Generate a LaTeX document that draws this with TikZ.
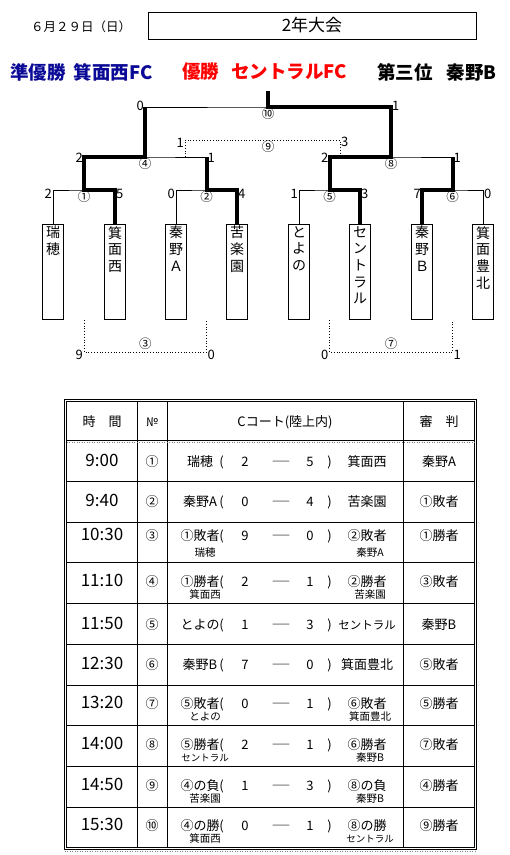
\documentclass[tikz,border=0pt]{standalone}
\usepackage{fontspec}
\setmainfont{Noto Sans CJK JP}
\usetikzlibrary{calc, positioning}
\definecolor{runnerblue}{RGB}{10,10,150}

\begin{document}
\begin{tikzpicture}[x=1pt,y=-1pt,
  bracket/.style={line width=0.9pt},
  winline/.style={line width=4pt, line join=miter},
  dotline/.style={line width=0.8pt, dotted},
  teambox/.style={draw, line width=0.9pt, anchor=north, minimum width=20.5pt, minimum height=95pt, inner sep=0pt},
  teamname/.style={anchor=north, align=center, inner sep=2pt, font=\fontsize{14}{16.7}\selectfont},
  score/.style={inner sep=1pt, font=\fontsize{13}{13}\selectfont},
  gameno/.style={inner sep=1pt, font=\fontsize{12.5}{13}\selectfont},
  result/.style={anchor=west, inner sep=0pt, font=\bfseries\fontsize{18.5}{18.5}\selectfont},
  cell/.style={anchor=base, inner sep=0pt, font=\fontsize{13}{13}\selectfont},
  timecell/.style={cell, font=\fontsize{17}{17}\selectfont},
  subcell/.style={cell, font=\fontsize{10.5}{10.5}\selectfont},
]
\useasboundingbox (0,0) rectangle (510,855);

% title lines
\node[font=\fontsize{12.5}{13}\selectfont] (date) at (81,27) {６月２９日（日）};
\node[draw, line width=0.8pt, minimum width=328pt, minimum height=27pt, inner sep=0pt,
      font=\fontsize{17}{17}\selectfont] (event) at (312,25.5) {2年大会};
\node[result, text=runnerblue] (second) at (10,72) {準優勝\hspace{8pt}箕面西FC};
\node[result, text=red] (first) at (182,72) {優勝\hspace{12pt}セントラルFC};
\node[result] (third) at (377,72) {第三位\hspace{14pt}秦野B};

% teams
\node[teambox] (mizuho) at (53,224) {};
\node[teambox] (minoo) at (115,224) {};
\node[teambox] (hatanoA) at (176,224) {};
\node[teambox] (kurakuen) at (237,224) {};
\node[teambox] (toyono) at (299,224) {};
\node[teambox] (central) at (360,224) {};
\node[teambox] (hatanoB) at (422,224) {};
\node[teambox] (toyokita) at (483,224) {};
\node[teamname] (mizuhoN) at (mizuho.north) {瑞\\穂};
\node[teamname] (minooN) at (minoo.north) {箕\\面\\西};
\node[teamname] (hatanoAN) at (hatanoA.north) {秦\\野\\Ａ};
\node[teamname] (kurakuenN) at (kurakuen.north) {苦\\楽\\園};
\node[teamname] (toyonoN) at (toyono.north) {と\\よ\\の};
\node[teamname] (centralN) at (central.north) {セ\\ン\\ト\\ラ\\ル};
\node[teamname] (hatanoBN) at (hatanoB.north) {秦\\野\\Ｂ};
\node[teamname] (toyokitaN) at (toyokita.north) {箕\\面\\豊\\北};

% bracket
\coordinate (m1) at (84,190);
\coordinate (m2) at (206.5,190);
\coordinate (m5) at (329.5,190);
\coordinate (m6) at (452.5,190);
\coordinate (m4) at (145,157);
\coordinate (m8) at (391,157);
\coordinate (m10) at (268,107);
\coordinate (champ) at (268,91);
\coordinate (c9l) at (185,140);
\coordinate (c9r) at (340,140);
\coordinate (low) at (0,352);
\coordinate (c3) at ($(m1 |- low)!0.5!(m2 |- low)$);
\coordinate (c7) at ($(m5 |- low)!0.5!(m6 |- low)$);

\draw[bracket] (mizuho.north) |- (m1) -| (minoo.north);
\draw[bracket] (hatanoA.north) |- (m2) -| (kurakuen.north);
\draw[bracket] (toyono.north) |- (m5) -| (central.north);
\draw[bracket] (hatanoB.north) |- (m6) -| (toyokita.north);
\draw[bracket] (m1) |- (m4) -| (m2);
\draw[bracket] (m5) |- (m8) -| (m6);
\draw[bracket] (m4) |- (m10) -| (m8);

\draw[winline] (minoo.north) |- (m1) |- (m4) -- (m4 |- m10);
\draw[winline] (kurakuen.north) |- (m2) -- (m2 |- m4);
\draw[winline] (central.north) |- (m5) |- (m8) |- (m10) -- (champ);
\draw[winline] (hatanoB.north) |- (m6) -- (m6 |- m8);

\draw[dotline] (c9l |- m4) -- (c9l) -- (c9r) -- (c9r |- m8);
\draw[dotline] (m1 |- mizuho.south) -- (m1 |- low) -- (m2 |- low) -- (m2 |- mizuho.south);
\draw[dotline] (m5 |- mizuho.south) -- (m5 |- low) -- (m6 |- low) -- (m6 |- mizuho.south);

\node[score, left, yshift=-4pt] (r1a) at (mizuho.north |- m1) {2};
\node[score, right, yshift=-4pt] (r1b) at (minoo.north |- m1) {5};
\node[score, left, yshift=-4pt] (r2a) at (hatanoA.north |- m2) {0};
\node[score, right, yshift=-4pt] (r2b) at (kurakuen.north |- m2) {4};
\node[score, left, yshift=-4pt] (r5a) at (toyono.north |- m5) {1};
\node[score, right, yshift=-4pt] (r5b) at (central.north |- m5) {3};
\node[score, left, yshift=-4pt] (r6a) at (hatanoB.north |- m6) {7};
\node[score, right, yshift=-4pt] (r6b) at (toyokita.north |- m6) {0};
\node[score, left, yshift=-1pt] (r4a) at (m1 |- m4) {2};
\node[score, right, yshift=-1pt] (r4b) at (m2 |- m4) {1};
\node[score, left, yshift=-1pt] (r8a) at (m5 |- m8) {2};
\node[score, right, yshift=-1pt] (r8b) at (m6 |- m8) {1};
\node[score, left, yshift=1pt] (r10a) at (m4 |- m10) {0};
\node[score, right, yshift=1pt] (r10b) at (m8 |- m10) {1};
\node[score, left, yshift=-3pt] (r9a) at (c9l) {1};
\node[score, right, yshift=-2pt] (r9b) at (c9r) {3};
\node[score, left, yshift=-3pt] (r3a) at (m1 |- low) {9};
\node[score, right, yshift=-3pt] (r3b) at (m2 |- low) {0};
\node[score, left, yshift=-3pt] (r7a) at (m5 |- low) {0};
\node[score, right, yshift=-3pt] (r7b) at (m6 |- low) {1};

\node[gameno, below] (g1) at (m1) {①};
\node[gameno, below] (g2) at (m2) {②};
\node[gameno, below] (g5) at (m5) {⑤};
\node[gameno, below] (g6) at (m6) {⑥};
\node[gameno, below] (g4) at (m4) {④};
\node[gameno, below] (g8) at (m8) {⑧};
\node[gameno, below] (g10) at (m10) {⑩};
\node[gameno, below] (g9) at (m10 |- c9l) {⑨};
\node[gameno, above, yshift=1pt] (g3) at (c3) {③};
\node[gameno, above, yshift=1pt] (g7) at (c7) {⑦};

% schedule table
\draw[line width=0.8pt] (64.5,399.5) rectangle (476.5,849);
\draw[line width=0.8pt] (66.5,401.5) rectangle (474.5,847);
\draw[line width=0.8pt] (137,401.5) -- (137,847) (167,401.5) -- (167,847) (403,401.5) -- (403,847);
\draw[line width=0.8pt] (66.5,440.5) -- (474.5,440.5) (66.5,481.25) -- (474.5,481.25)
  (66.5,522) -- (474.5,522) (66.5,562.75) -- (474.5,562.75) (66.5,603.5) -- (474.5,603.5)
  (66.5,644.25) -- (474.5,644.25) (66.5,685) -- (474.5,685) (66.5,725.75) -- (474.5,725.75)
  (66.5,766.5) -- (474.5,766.5) (66.5,807.25) -- (474.5,807.25);
\draw[gray, line width=0.5pt, dotted] (66.5,442.5) -- (474.5,442.5) (64.5,851) -- (476.5,851);

\node[cell] (hTime) at (102,426) {時　間};
\node[cell, font=\fontsize{12}{12}\selectfont] (hNo) at (152,426) {№};
\node[cell] (hCourt) at (285,426) {Cコート(陸上内)};
\node[cell] (hRef) at (439,426) {審　判};

\def\gamerow#1#2#3#4#5#6#7#8#9{%
  \node[timecell] (time#9) at (102,#1) {#2};
  \node[cell] (no#9) at (152,#1) {#3};
  \node[cell] (home#9) at (200,#1) {#4};
  \node[cell] (lp#9) at (221.5,#1) {(};
  \node[cell] (hs#9) at (245,#1) {#5};
  \node[cell] (dash#9) at (281,#1) {\scalebox{1.5}[1]{―}};
  \node[cell] (as#9) at (310,#1) {#6};
  \node[cell] (rp#9) at (329.5,#1) {)};
  \node[cell] (away#9) at (367,#1) {#7};
  \node[cell] (ref#9) at (439,#1) {#8};
}
\gamerow{466}{9:00}{①}{瑞穂}{2}{5}{箕面西}{秦野A}{1}
\gamerow{506.6}{9:40}{②}{秦野A}{0}{4}{苦楽園}{①敗者}{2}
\gamerow{540.5}{10:30}{③}{①敗者}{9}{0}{②敗者}{①勝者}{3}
\gamerow{586}{11:10}{④}{①勝者}{2}{1}{②勝者}{③敗者}{4}
\gamerow{629}{11:50}{⑤}{とよの}{1}{3}{{\fontsize{11.5}{11.5}\selectfont セントラル}}{秦野B}{5}
\gamerow{669.6}{12:30}{⑥}{秦野B}{7}{0}{箕面豊北}{⑤敗者}{6}
\gamerow{708}{13:20}{⑦}{⑤敗者}{0}{1}{⑥敗者}{⑤勝者}{7}
\gamerow{749}{14:00}{⑧}{⑤勝者}{2}{1}{⑥勝者}{⑦敗者}{8}
\gamerow{790}{14:50}{⑨}{④の負}{1}{3}{⑧の負}{④勝者}{9}
\gamerow{830}{15:30}{⑩}{④の勝}{0}{1}{⑧の勝}{⑨勝者}{10}

\node[subcell] (home3s) at (205,556.5) {瑞穂};
\node[subcell] (away3s) at (370,556.5) {秦野A};
\node[subcell] (home4s) at (205,598) {箕面西};
\node[subcell] (away4s) at (370,598) {苦楽園};
\node[subcell] (home7s) at (205,720) {とよの};
\node[subcell] (away7s) at (370,720) {箕面豊北};
\node[subcell, font=\fontsize{9.5}{9.5}\selectfont] (home8s) at (205,761) {セントラル};
\node[subcell] (away8s) at (370,761) {秦野B};
\node[subcell] (home9s) at (205,802) {苦楽園};
\node[subcell] (away9s) at (370,802) {秦野B};
\node[subcell] (home10s) at (205,842) {箕面西};
\node[subcell, font=\fontsize{9.5}{9.5}\selectfont] (away10s) at (370,842) {セントラル};
\end{tikzpicture}
\end{document}
